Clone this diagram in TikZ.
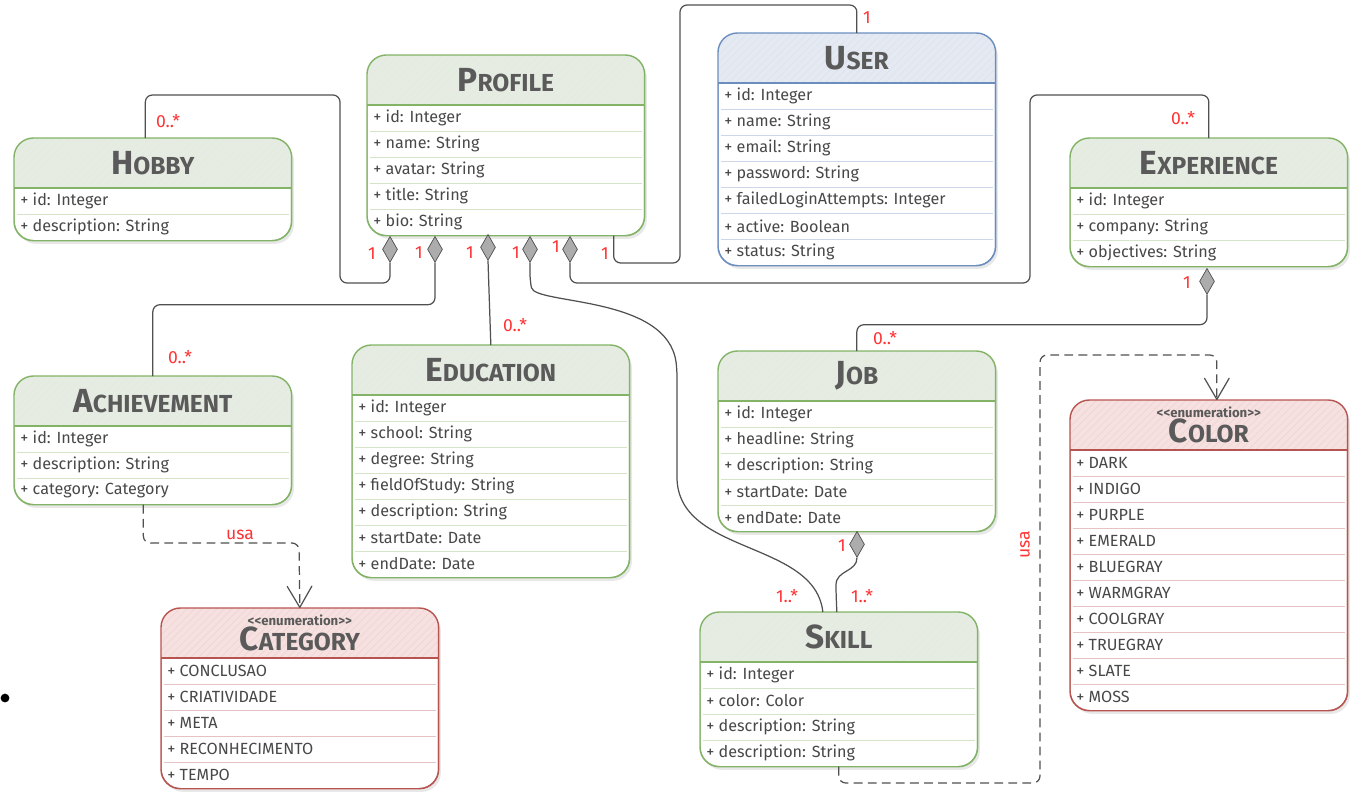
\documentclass[tikz,border=0pt]{standalone}
\usepackage{fontspec}
\setmainfont{Fira Sans}
\usetikzlibrary{shapes.geometric,arrows.meta,shadows,patterns.meta}
\definecolor{greenline}{HTML}{82B366}
\definecolor{greenhdr}{HTML}{E6ECE3}
\definecolor{blueline}{HTML}{6C8EBF}
\definecolor{bluehdr}{HTML}{E5E9F1}
\definecolor{redline}{HTML}{B85450}
\definecolor{redhdr}{HTML}{F6E0E0}
\definecolor{ink}{HTML}{484848}
\definecolor{wire}{HTML}{505050}
\definecolor{multred}{HTML}{FF3333}

\newcommand{\cname}[2]{{\fontsize{19}{19}\selectfont #1}{\fontsize{14}{14}\selectfont #2}}
\newcommand{\stereo}{{\fontsize{7.5}{8}\selectfont\bfseries {<}{<}enumeration{>}{>}}}

% name, left, top, rows, colour, title, attributes
\newcommand{\umlclass}[7]{%
  \pgfmathsetmacro{\bh}{(50+26*#4)*0.02}
  \pgfmathtruncatemacro{\nsep}{#4-1}
  \node[cbox=#5, minimum height=\bh cm] (#1) at (#2,#3) {};
  \begin{scope}
    \clip[rounded corners=11pt] (#1.south west) rectangle (#1.north east);
    \fill[#5hdr, postaction={pattern={Lines[angle=45,distance=3pt,line width=.3pt]}, pattern color=#5line!25}]
      (#1.north west) rectangle ([yshift=-1cm]#1.north east);
  \end{scope}
  \draw[#5line, line width=.7pt] ([yshift=-1cm]#1.north west) -- ([yshift=-1cm]#1.north east);
  \foreach \i in {1,...,\nsep}
    \draw[#5line!35] ([xshift=.06cm,yshift=-1cm-\i*0.52cm]#1.north west) -- ([xshift=-.06cm,yshift=-1cm-\i*0.52cm]#1.north east);
  \draw[#5line, line width=.8pt, rounded corners=11pt] (#1.south west) rectangle (#1.north east);
  \node[ctitle] (#1-t) at ([yshift=-.5cm]#1.north) {#6};
  \foreach \r [count=\i] in {#7}
    \node[cattr] (#1-\i) at ([xshift=.12cm,yshift=-1cm-(\i-0.5)*0.52cm]#1.north west) {\r};
}

\begin{document}
\begin{tikzpicture}[x=0.02cm, y=-0.02cm, text=ink,
    cbox/.style={draw=#1line, fill=white, rounded corners=11pt, minimum width=5.54cm,
      inner sep=0, anchor=north west, drop shadow={opacity=.18, shadow xshift=1.5pt, shadow yshift=-2pt}},
    ctitle/.style={font=\bfseries, align=center, inner sep=0, text=ink!90},
    cattr/.style={font=\fontsize{9.2}{10}\selectfont, anchor=west, inner sep=0},
    mult/.style={text=multred, font=\fontsize{10}{10}\selectfont, inner sep=0},
    assoc/.style={draw=wire, line width=.7pt, rounded corners=4pt},
    dep/.style={draw=wire, line width=.7pt, rounded corners=4pt, dash pattern=on 5pt off 3pt,
      -{Straight Barb[length=12pt,width=14pt,round]}},
    agg/.style={diamond, draw=wire, fill=gray!65, minimum width=.3cm, minimum height=.52cm,
      inner sep=0, anchor=north}]
  \useasboundingbox (0,0) rectangle (1364,796);

  % classes
  \umlclass{prof}{367}{55}{5}{green}{\cname{P}{ROFILE}}{+ id: Integer, + name: String, + avatar: String, + title: String, + bio: String}
  \umlclass{user}{718}{33}{7}{blue}{\cname{U}{SER}}{+ id: Integer, + name: String, + email: String, + password: String, + failedLoginAttempts: Integer, + active: Boolean, + status: String}
  \umlclass{hob}{14}{138}{2}{green}{\cname{H}{OBBY}}{+ id: Integer, + description: String}
  \umlclass{exp}{1070}{138}{3}{green}{\cname{E}{XPERIENCE}}{+ id: Integer, + company: String, + objectives: String}
  \umlclass{ach}{14}{376}{3}{green}{\cname{A}{CHIEVEMENT}}{+ id: Integer, + description: String, + category: Category}
  \umlclass{edu}{352}{345}{7}{green}{\cname{E}{DUCATION}}{+ id: Integer, + school: String, + degree: String, + fieldOfStudy: String, + description: String, + startDate: Date, + endDate: Date}
  \umlclass{job}{718}{351}{5}{green}{\cname{J}{OB}}{+ id: Integer, + headline: String, + description: String, + startDate: Date, + endDate: Date}
  \umlclass{cat}{161}{608}{5}{red}{\stereo\\\cname{C}{ATEGORY}}{+ CONCLUSAO, + CRIATIVIDADE, + META, + RECONHECIMENTO, + TEMPO}
  \umlclass{col}{1070}{400}{10}{red}{\stereo\\\cname{C}{OLOR}}{+ DARK, + INDIGO, + PURPLE, + EMERALD, + BLUEGRAY, + WARMGRAY, + COOLGRAY, + TRUEGRAY, + SLATE, + MOSS}
  \umlclass{skl}{700}{612}{4}{green}{\cname{S}{KILL}}{+ id: Integer, + color: Color, + description: String, + description: String}

  \node[circle, fill=black, inner sep=0, minimum size=5pt] (dot) at (5,698) {};

  % aggregation diamonds
  \node[agg] (d1) at (390,236) {};
  \node[agg] (d2) at (435,236) {};
  \node[agg] (d3) at (488,234) {};
  \node[agg] (d4) at (530,236) {};
  \node[agg] (d5) at (570,236) {};
  \node[agg] (d6) at (1207,268) {};
  \node[agg] (d7) at (857,531) {};

  % connectors
  \draw[assoc] (d1.south) |- (340,283) -- (340,95) -| ([xshift=-.15cm]hob.north);
  \draw[assoc] (d2.south) -- ++(0,42) -| (ach.north);
  \draw[assoc] (d3.south) -- (edu.north);
  \draw[assoc] (d4.south) -- ++(0,18) .. controls (535,305) and (668,295) .. (677,370)
    -- (677,470) .. controls (677,555) and (815,540) .. ([xshift=-.32cm]skl.north);
  \draw[assoc] (d5.south) |- (1030,283) -- (1030,95) -| (exp.north);
  \draw[assoc] ([xshift=-.62cm]prof.south east) |- (680,263) -- (680,5) -| (user.north);
  \draw[assoc] (d6.south) -- ++(0,30) -| (job.north);
  \draw[assoc] (d7.south) .. controls (857,572) and (836,570) .. (836,592) -- ([xshift=-.04cm]skl.north);
  \draw[dep] ([xshift=-.19cm]ach.south) |- (299,543) -- (cat.north);
  \draw[dep] (skl.south) |- (1040,783) -- (1040,355) -| ([xshift=.16cm]col.north);

  % multiplicities
  \node[mult] (m1) at (372,254) {1};
  \node[mult] (m2) at (419,253) {1};
  \node[mult] (m3) at (470,253) {1};
  \node[mult] (m4) at (516,253) {1};
  \node[mult] (m5) at (556,247) {1};
  \node[mult] (m6) at (605,254) {1};
  \node[mult] (m7) at (867,18) {1};
  \node[mult] (m8) at (1187,283) {1};
  \node[mult] (m9) at (842,546) {1};
  \node[mult] (n1) at (168,121) {0..*};
  \node[mult] (n2) at (180,357) {0..*};
  \node[mult] (n3) at (515,325) {0..*};
  \node[mult] (n4) at (1183,118) {0..*};
  \node[mult] (n5) at (885,338) {0..*};
  \node[mult] (s1) at (787,596) {1..*};
  \node[mult] (s2) at (862,596) {1..*};
  \node[mult] (u1) at (240,535) {usa};
  \node[mult, rotate=90] (u2) at (1025,545) {usa};
\end{tikzpicture}
\end{document}
